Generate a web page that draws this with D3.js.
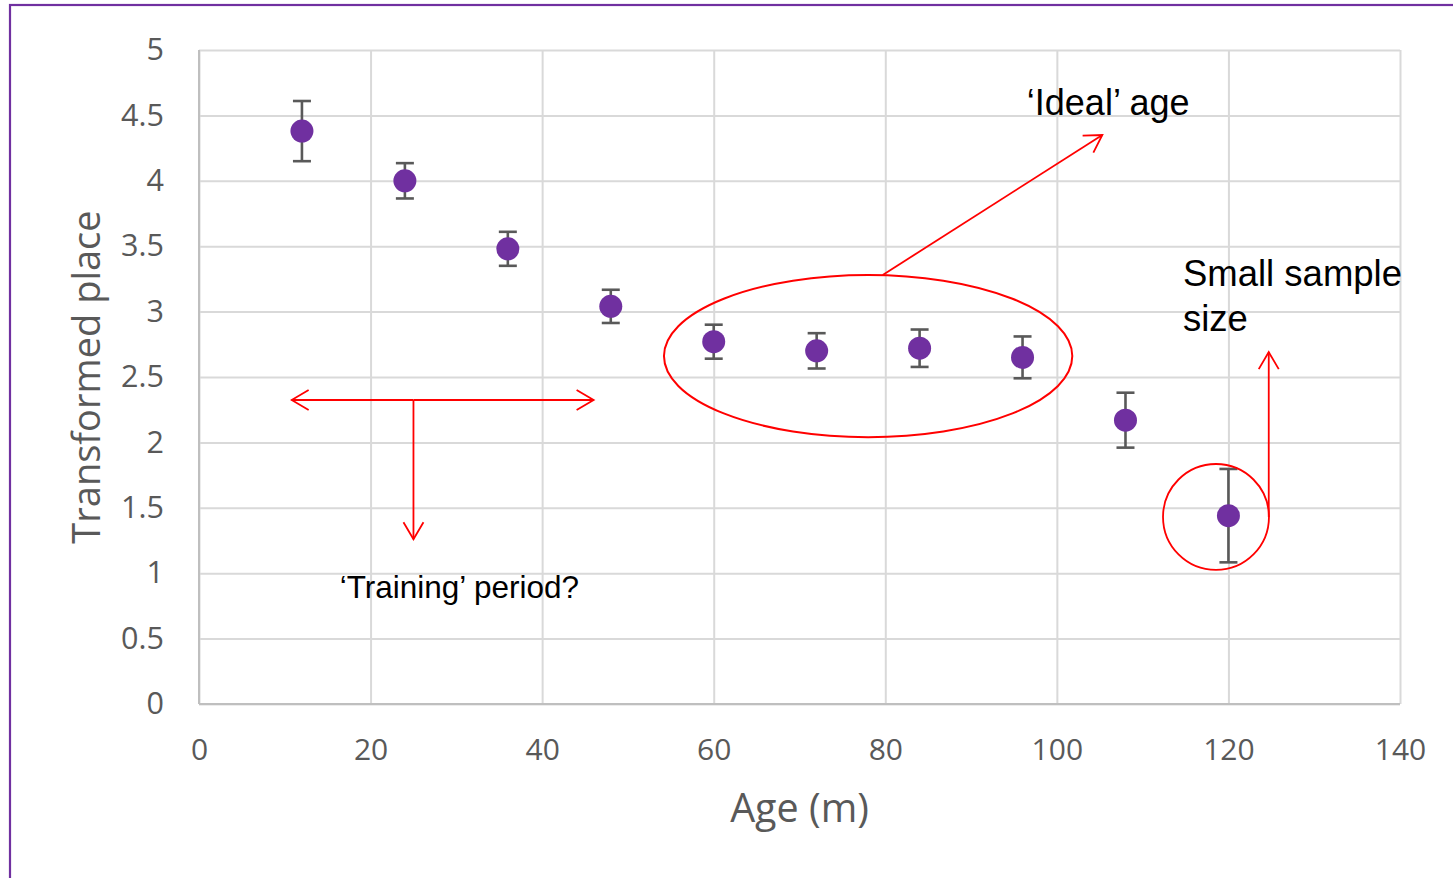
<!DOCTYPE html>
<html>
<head>
<meta charset="utf-8">
<script src="https://cdn.jsdelivr.net/npm/d3@7"></script>
<style>
  html, body { margin: 0; padding: 0; background: #fff; }
  svg { display: block; }
</style>
</head>
<body>
<svg id="chart" width="1453" height="878"></svg>
<script>
// Mean transformed finishing place by age (months), with error bars
const ages = [12, 24, 36, 48, 60, 72, 84, 96, 108, 120];
const means = [4.38, 4.00, 3.48, 3.04, 2.77, 2.70, 2.72, 2.65, 2.17, 1.44];
const errors = [0.23, 0.135, 0.13, 0.127, 0.13, 0.135, 0.143, 0.16, 0.21, 0.357];

const xTicks = [0, 20, 40, 60, 80, 100, 120, 140];
const yTicks = [0, 0.5, 1, 1.5, 2, 2.5, 3, 3.5, 4, 4.5, 5];
const xTitle = "Age (m)";
const yTitle = "Transformed place";

// Annotation text and shapes, in data units
const notes = [
  { text: "\u2018Ideal\u2019 age", x: 96.5, y: 4.50, size: 36 },
  { text: "Small sample", x: 114.7, y: 3.196, size: 36.5 },
  { text: "size", x: 114.7, y: 2.85, size: 36.5 },
  { text: "\u2018Training\u2019 period?", x: 16.4, y: 0.81, size: 31.5 }
];
const arrows = [
  { x1: 25, y1: 2.324, x2: 10.8, y2: 2.324 },
  { x1: 25, y1: 2.324, x2: 46.0, y2: 2.324 },
  { x1: 25, y1: 2.324, x2: 25, y2: 1.26 },
  { x1: 79.7, y1: 3.28, x2: 105.3, y2: 4.35 },
  { x1: 124.7, y1: 1.43, x2: 124.7, y2: 2.69 }
];
const ellipse = { cx: 78.0, cy: 2.66, rx: 23.8, ry: 0.62 };
const ring = { cx: 118.55, cy: 1.43, r: 0.405 };

const svg = d3.select("#chart");
const margin = { left: 199, top: 50, right: 53, bottom: 174 };
const W = 1453, H = 878;

const x = d3.scaleLinear().domain([0, 140]).range([margin.left, W - margin.right]);
const y = d3.scaleLinear().domain([0, 5]).range([H - margin.bottom, margin.top]);

// outer frame
svg.append("rect")
  .attr("x", 10).attr("y", 5).attr("width", W + 20).attr("height", H + 20)
  .attr("fill", "#fff").attr("stroke", "#7030A0").attr("stroke-width", 2.2);

// gridlines
svg.append("g")
  .attr("transform", `translate(0,${y(0)})`)
  .call(d3.axisBottom(x).tickValues(xTicks).tickSize(-(y(0) - y(5))).tickFormat(""))
  .call(g => g.select(".domain").remove())
  .call(g => g.selectAll("line").attr("stroke", "#d9d9d9").attr("stroke-width", 2));
svg.append("g")
  .attr("transform", `translate(${x(0)},0)`)
  .call(d3.axisLeft(y).tickValues(yTicks).tickSize(-(x(140) - x(0))).tickFormat(""))
  .call(g => g.select(".domain").remove())
  .call(g => g.selectAll("line").attr("stroke", "#d9d9d9").attr("stroke-width", 2));

// axis lines
svg.append("line")
  .attr("x1", x(0)).attr("x2", x(140)).attr("y1", y(0)).attr("y2", y(0))
  .attr("stroke", "#bfbfbf").attr("stroke-width", 2);
svg.append("line")
  .attr("x1", x(0)).attr("x2", x(0)).attr("y1", y(0)).attr("y2", y(5))
  .attr("stroke", "#bfbfbf").attr("stroke-width", 2);

// tick labels
const tickFont = "'Open Sans', sans-serif";
const xAxis = svg.append("g")
  .attr("transform", `translate(0,${y(0)})`)
  .call(d3.axisBottom(x).tickValues(xTicks).tickSize(0).tickPadding(35).tickFormat(d3.format("d")));
xAxis.select(".domain").remove();
xAxis.selectAll("text").attr("font-family", tickFont).attr("font-size", 30).attr("fill", "#595959");

const yAxis = svg.append("g")
  .attr("transform", `translate(${x(0)},0)`)
  .call(d3.axisLeft(y).tickValues(yTicks).tickSize(0).tickPadding(35).tickFormat(d => String(d)));
yAxis.select(".domain").remove();
yAxis.selectAll("text").attr("font-family", tickFont).attr("font-size", 30.5).attr("fill", "#595959");

// axis titles
svg.append("text")
  .attr("x", (x(0) + x(140)) / 2).attr("y", 822)
  .attr("text-anchor", "middle")
  .attr("font-family", tickFont).attr("font-size", 39.5).attr("fill", "#595959")
  .text(xTitle);
svg.append("text")
  .attr("transform", `translate(100,${(y(0) + y(5)) / 2}) rotate(-90)`)
  .attr("text-anchor", "middle")
  .attr("font-family", tickFont).attr("font-size", 38).attr("fill", "#595959")
  .text(yTitle);

// error bars
const pts = ages.map((a, i) => ({ a, m: means[i], e: errors[i] }));
const eb = svg.append("g").attr("stroke", "#595959").attr("stroke-width", 2.6);
eb.selectAll(".stem").data(pts).join("line")
  .attr("x1", d => x(d.a)).attr("x2", d => x(d.a))
  .attr("y1", d => y(d.m + d.e)).attr("y2", d => y(d.m - d.e));
eb.selectAll(".capT").data(pts).join("line")
  .attr("x1", d => x(d.a) - 9).attr("x2", d => x(d.a) + 9)
  .attr("y1", d => y(d.m + d.e)).attr("y2", d => y(d.m + d.e));
eb.selectAll(".capB").data(pts).join("line")
  .attr("x1", d => x(d.a) - 9).attr("x2", d => x(d.a) + 9)
  .attr("y1", d => y(d.m - d.e)).attr("y2", d => y(d.m - d.e));

// points
svg.append("g").selectAll("circle").data(pts).join("circle")
  .attr("cx", d => x(d.a)).attr("cy", d => y(d.m)).attr("r", 11.5)
  .attr("fill", "#7030A0");

// annotation shapes
const red = "#ff0000";
svg.append("defs").append("marker")
  .attr("id", "open-arrow")
  .attr("viewBox", "-20 -12 22 24")
  .attr("markerUnits", "userSpaceOnUse")
  .attr("markerWidth", 22).attr("markerHeight", 24)
  .attr("refX", 0).attr("refY", 0)
  .attr("orient", "auto")
  .append("path")
  .attr("d", "M-17,-10 L0,0 L-17,10")
  .attr("fill", "none").attr("stroke", red).attr("stroke-width", 1.8);

svg.append("ellipse")
  .attr("cx", x(ellipse.cx)).attr("cy", y(ellipse.cy))
  .attr("rx", x(ellipse.rx) - x(0)).attr("ry", y(0) - y(ellipse.ry))
  .attr("fill", "none").attr("stroke", red).attr("stroke-width", 2);

svg.append("circle")
  .attr("cx", x(ring.cx)).attr("cy", y(ring.cy))
  .attr("r", y(0) - y(ring.r))
  .attr("fill", "none").attr("stroke", red).attr("stroke-width", 1.8);

svg.append("g").selectAll("line").data(arrows).join("line")
  .attr("x1", d => x(d.x1)).attr("y1", d => y(d.y1))
  .attr("x2", d => x(d.x2)).attr("y2", d => y(d.y2))
  .attr("stroke", red).attr("stroke-width", 1.8)
  .attr("marker-end", "url(#open-arrow)");

// annotation text
svg.append("g").selectAll("text").data(notes).join("text")
  .attr("x", d => x(d.x)).attr("y", d => y(d.y))
  .attr("font-family", "'Liberation Sans', Arial, sans-serif")
  .attr("font-size", d => d.size).attr("fill", "#000")
  .text(d => d.text);
</script>
</body>
</html>
